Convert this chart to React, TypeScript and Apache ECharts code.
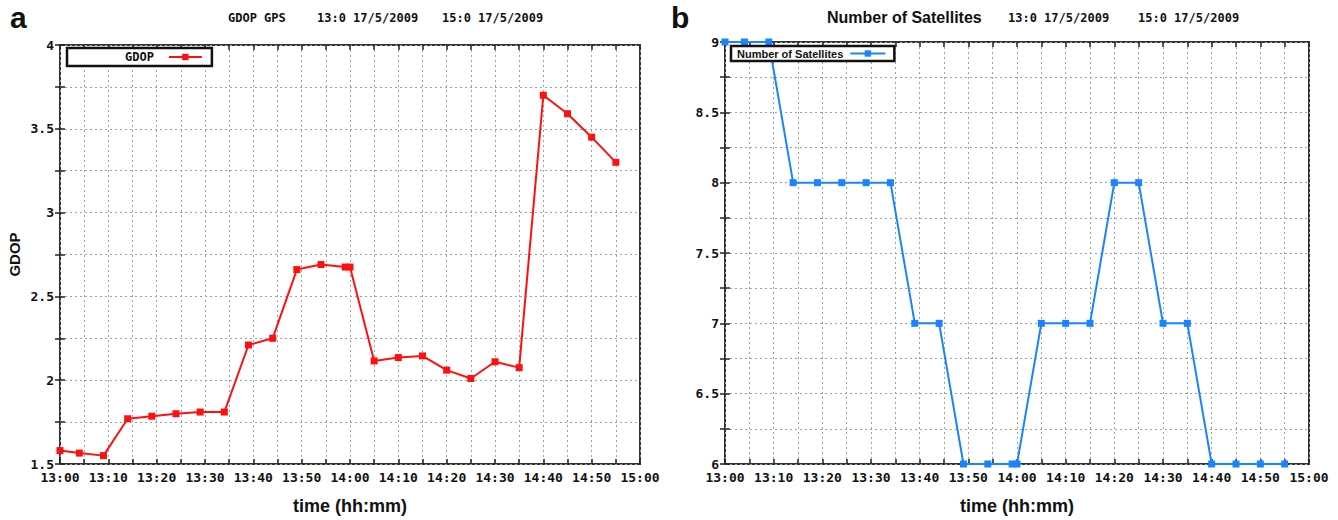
import React, { useEffect, useRef } from "react";
import * as echarts from "echarts";

// sample times in minutes after 13:00
const sampleMinutes = [0, 4, 9, 14, 19, 24, 29, 34, 39, 44, 49, 54, 59, 60, 65, 70, 75, 80, 85, 90, 95, 100, 105, 110, 115];
const gdopValues = [1.58, 1.565, 1.55, 1.77, 1.785, 1.8, 1.81, 1.81, 2.21, 2.25, 2.66, 2.69, 2.675, 2.675, 2.115, 2.135, 2.145, 2.06, 2.01, 2.11, 2.075, 3.7, 3.59, 3.45, 3.3];
const satValues = [9, 9, 9, 8, 8, 8, 8, 8, 7, 7, 6, 6, 6, 6, 7, 7, 7, 8, 8, 7, 7, 6, 6, 6, 6];
const timeTickLabels = ["13:00", "13:10", "13:20", "13:30", "13:40", "13:50", "14:00", "14:10", "14:20", "14:30", "14:40", "14:50", "15:00"];

const MONO = "'DejaVu Sans Mono', monospace";
const SANS = "'Liberation Sans', Arial, sans-serif";

function xLabel(v: number): string {
  const r = Math.round(v);
  if (r % 10 !== 0) return "";
  return timeTickLabels[r / 10] ?? "";
}
function yLabel(v: number): string {
  const d = v * 2;
  if (Math.abs(d - Math.round(d)) > 1e-6) return "";
  return String(Math.round(v * 10) / 10);
}

const gridLine = { show: true, lineStyle: { color: "#a0a0a0", type: [2, 3] as any, width: 1 } };

function xAxes(gridIndex: number) {
  return [
    {
      type: "value", gridIndex, position: "bottom", min: 0, max: 120, interval: 5,
      axisLine: { show: false },
      axisTick: { show: true, inside: true, length: 5, lineStyle: { color: "#222", width: 1.5 } },
      axisLabel: { formatter: xLabel, fontFamily: MONO, fontWeight: "bold", fontSize: 13, color: "#111", margin: 7, showMinLabel: true, showMaxLabel: true },
      splitLine: gridLine,
      name: "time (hh:mm)", nameLocation: "middle", nameGap: 33,
      nameTextStyle: { fontFamily: SANS, fontWeight: "bold", fontSize: 18, color: "#111" },
    },
    {
      type: "value", gridIndex, position: "top", min: 0, max: 120, interval: 5,
      axisLine: { show: false },
      axisTick: { show: true, inside: true, length: 5, lineStyle: { color: "#222", width: 1.5 } },
      axisLabel: { show: false }, splitLine: { show: false },
    },
  ];
}

function yAxes(gridIndex: number, min: number, max: number, name: string) {
  return [
    {
      type: "value", gridIndex, position: "left", min, max, interval: 0.25,
      axisLine: { show: false },
      axisTick: { show: true, inside: true, length: 5, lineStyle: { color: "#222", width: 1.5 } },
      axisLabel: { formatter: yLabel, fontFamily: MONO, fontWeight: "bold", fontSize: 13, color: "#111", margin: 6, showMinLabel: true, showMaxLabel: true },
      splitLine: gridLine,
      name, nameLocation: "middle", nameGap: 38, nameRotate: 90,
      nameTextStyle: { fontFamily: SANS, fontWeight: "bold", fontSize: 15, color: "#111" },
    },
    {
      type: "value", gridIndex, position: "right", min, max, interval: 0.25,
      axisLine: { show: false },
      axisTick: { show: true, inside: true, length: 5, lineStyle: { color: "#222", width: 1.5 } },
      axisLabel: { show: false }, splitLine: { show: false },
    },
  ];
}

export default function App() {
  const ref = useRef<HTMLDivElement>(null);
  useEffect(() => {
    if (!ref.current) return;
    const chart = echarts.init(ref.current, null, { renderer: "svg" });
    const gdopData = sampleMinutes.map((m, i) => [m, gdopValues[i]]);
    const satData = sampleMinutes.map((m, i) => [m, satValues[i]]);
    chart.setOption({
      animation: false,
      backgroundColor: "#fff",
      grid: [
        { left: 60, right: 698, top: 45, bottom: 53, show: true, borderColor: "#333", borderWidth: 2, backgroundColor: "#fff" },
        { left: 725, right: 29, top: 42, bottom: 52, show: true, borderColor: "#333", borderWidth: 2, backgroundColor: "#fff" },
      ],
      xAxis: [...xAxes(0), ...xAxes(1)],
      yAxis: [...yAxes(0, 1.5, 4, "GDOP"), ...yAxes(1, 6, 9, "")],
      legend: [
        {
          data: ["GDOP"], left: 67, top: 48, align: "right", orient: "horizontal",
          backgroundColor: "#fff", borderColor: "#111", borderWidth: 2.5, borderRadius: 0,
          padding: [3, 9, 3, 58], itemWidth: 33, itemHeight: 8,
          textStyle: { fontFamily: MONO, fontWeight: "bold", fontSize: 12, color: "#111", padding: [0, 10, 0, 0] },
        },
        {
          data: ["Number of Satellites"], left: 731, top: 46, align: "right", orient: "horizontal",
          backgroundColor: "#fff", borderColor: "#111", borderWidth: 2.5, borderRadius: 0,
          padding: [2, 8, 2, 6], itemWidth: 35, itemHeight: 8,
          textStyle: { fontFamily: SANS, fontWeight: "bold", fontSize: 11, color: "#111", padding: [0, 2, 0, 0] },
        },
      ],
      graphic: [
        { type: "text", left: 10, top: 2, style: { text: "a", font: `bold 30px ${SANS}`, fill: "#111" } },
        { type: "text", left: 671, top: 2, style: { text: "b", font: `bold 30px ${SANS}`, fill: "#111" } },
        { type: "text", left: 228, top: 12, style: { text: "GDOP GPS", font: `bold 12px ${MONO}`, fill: "#111" } },
        { type: "text", left: 317, top: 12, style: { text: "13:0 17/5/2009", font: `bold 12px ${MONO}`, fill: "#111" } },
        { type: "text", left: 442, top: 12, style: { text: "15:0 17/5/2009", font: `bold 12px ${MONO}`, fill: "#111" } },
        { type: "text", left: 827, top: 9, style: { text: "Number of Satellites", font: `bold 16px ${SANS}`, fill: "#111" } },
        { type: "text", left: 1008, top: 12, style: { text: "13:0 17/5/2009", font: `bold 12px ${MONO}`, fill: "#111" } },
        { type: "text", left: 1138, top: 12, style: { text: "15:0 17/5/2009", font: `bold 12px ${MONO}`, fill: "#111" } },
      ],
      series: [
        {
          name: "GDOP", type: "line", xAxisIndex: 0, yAxisIndex: 0, data: gdopData,
          symbol: "rect", symbolSize: 7, clip: false,
          lineStyle: { color: "#ff1010", width: 2 }, itemStyle: { color: "#ff1010" },
        },
        {
          name: "Number of Satellites", type: "line", xAxisIndex: 2, yAxisIndex: 2, data: satData,
          symbol: "rect", symbolSize: 7, clip: false,
          lineStyle: { color: "#1a84ff", width: 2 }, itemStyle: { color: "#1a84ff" },
        },
      ],
    });
    return () => chart.dispose();
  }, []);
  return <div ref={ref} style={{ position: "fixed", left: 0, top: 0, width: 1338, height: 520 }} />;
}
